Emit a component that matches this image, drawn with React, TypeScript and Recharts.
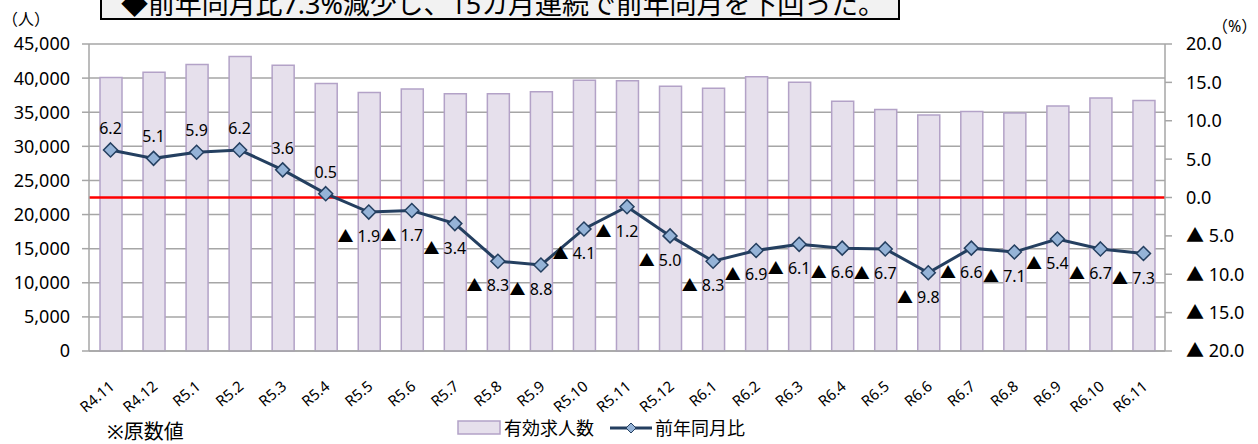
import React from 'react';
import { ComposedChart, Bar, Line, XAxis, YAxis, CartesianGrid, ReferenceLine } from 'recharts';

const categories = ['R4.11','R4.12','R5.1','R5.2','R5.3','R5.4','R5.5','R5.6','R5.7','R5.8','R5.9','R5.10','R5.11','R5.12','R6.1','R6.2','R6.3','R6.4','R6.5','R6.6','R6.7','R6.8','R6.9','R6.10','R6.11'];
const jobOffers = [40100,40850,42000,43150,41900,39200,37900,38400,37700,37700,38000,39700,39600,38800,38500,40200,39400,36600,35400,34600,35100,34900,35900,37100,36700];
const yoyChange = [6.2,5.1,5.9,6.2,3.6,0.5,-1.9,-1.7,-3.4,-8.3,-8.8,-4.1,-1.2,-5.0,-8.3,-6.9,-6.1,-6.6,-6.7,-9.8,-6.6,-7.1,-5.4,-6.7,-7.3];
const leftTicks = [0,5000,10000,15000,20000,25000,30000,35000,40000,45000];
const rightTicks = [-20,-15,-10,-5,0,5,10,15,20];
const boundaryTicks = Array.from({ length: categories.length + 1 }, (_, i) => i);

const barLegend = '有効求人数';
const lineLegend = '前年同月比';
const headline = '◆前年同月比7.3%減少し、15カ月連続で前年同月を下回った。';
const note = '※原数値';

const data = categories.map((c, i) => ({ name: c, offers: jobOffers[i], yoy: yoyChange[i], idx: i + 0.5 }));

const FONT = '"Noto Sans", "Noto Sans CJK JP", sans-serif';
const GRID = '#a6a6a6';

const fmtPct = (v: number) => (v < 0 ? `▲ ${Math.abs(v).toFixed(1)}` : v.toFixed(1));

const Diamond = (props: any) => {
  const { cx, cy } = props;
  if (cx == null || cy == null) return null;
  const r = 7;
  return (
    <polygon
      points={`${cx},${cy - r} ${cx + r},${cy} ${cx},${cy + r} ${cx - r},${cy}`}
      fill="#95B3D7"
      stroke="#243F60"
      strokeWidth={1.5}
    />
  );
};

const PointLabel = (props: any) => {
  const { x, y, value } = props;
  if (value == null) return null;
  const neg = value < 0;
  return (
    <text
      x={neg ? x - 10 : x}
      y={neg ? y + 30 : y - 16}
      textAnchor="middle"
      fontSize={16}
      fontFamily={FONT}
      fill="#000"
    >
      {fmtPct(value)}
    </text>
  );
};

const XTick = (props: any) => {
  const { x, y, payload } = props;
  const ax = x + 5;
  const ay = y + 29;
  return (
    <text
      x={ax}
      y={ay}
      textAnchor="end"
      fontSize={15}
      fontFamily={FONT}
      fill="#000"
      transform={`rotate(-40, ${ax}, ${ay})`}
    >
      {payload.value}
    </text>
  );
};

export default function App() {
  return (
    <div style={{ position: 'absolute', left: 0, top: 0, width: 1258, height: 444, background: '#fff', overflow: 'hidden', fontFamily: FONT }}>
      <ComposedChart
        width={1258}
        height={444}
        data={data}
        margin={{ top: 44, right: 0, bottom: 0, left: 0 }}
      >
        <CartesianGrid yAxisId="left" xAxisId="cat" vertical={false} stroke={GRID} strokeWidth={1.5} />
        <XAxis
          xAxisId="bound"
          type="number"
          dataKey="idx"
          domain={[0, categories.length]}
          ticks={boundaryTicks}
          interval={0}
          height={0}
          tick={false}
          axisLine={false}
          tickLine={{ stroke: GRID, strokeWidth: 1.5 }}
          tickSize={7}
        />
        <XAxis
          xAxisId="cat"
          dataKey="name"
          height={93}
          interval={0}
          tick={<XTick />}
          tickLine={false}
          axisLine={{ stroke: GRID, strokeWidth: 1.5 }}
        />
        <YAxis
          yAxisId="left"
          orientation="left"
          width={89}
          domain={[0, 45000]}
          ticks={leftTicks}
          interval={0}
          tickFormatter={(v: number) => v.toLocaleString('en-US')}
          tick={{ fontSize: 18, fill: '#000', fontFamily: FONT }}
          tickSize={7}
          tickMargin={12}
          tickLine={{ stroke: GRID, strokeWidth: 1.5 }}
          axisLine={{ stroke: GRID, strokeWidth: 1.5 }}
        />
        <YAxis
          yAxisId="right"
          orientation="right"
          width={93}
          domain={[-20, 20]}
          ticks={rightTicks}
          interval={0}
          tickFormatter={fmtPct}
          tick={{ fontSize: 18, fill: '#000', fontFamily: FONT, textAnchor: 'start' }}
          tickSize={7}
          tickMargin={14}
          tickLine={{ stroke: GRID, strokeWidth: 1.5 }}
          axisLine={{ stroke: GRID, strokeWidth: 1.5 }}
        />
        <Bar
          xAxisId="cat"
          yAxisId="left"
          dataKey="offers"
          barSize={22}
          fill="#E6E0EC"
          stroke="#B3A2C7"
          strokeWidth={1.5}
          isAnimationActive={false}
        />
        <ReferenceLine xAxisId="cat" yAxisId="right" y={0} stroke="#ff0000" strokeWidth={2.5} />
        <Line
          xAxisId="cat"
          yAxisId="right"
          dataKey="yoy"
          stroke="#243F60"
          strokeWidth={3}
          dot={<Diamond />}
          activeDot={false}
          label={<PointLabel />}
          isAnimationActive={false}
        />
      </ComposedChart>
      <svg width={1258} height={444} style={{ position: 'absolute', left: 0, top: 0, pointerEvents: 'none' }}>
        <rect x={101} y={-10} width={798} height={29} fill="#f2f2f2" stroke="#000" strokeWidth={2} />
        <text x={121} y={13.5} fontSize={27} textLength={764} lengthAdjust="spacing" fontFamily={FONT} fill="#000">{headline}</text>
        <text x={2} y={25} fontSize={16} fontFamily={FONT} fill="#000">（人）</text>
        <text x={1212} y={32} fontSize={16} fontFamily={FONT} fill="#000">（%）</text>
        <text x={107} y={439} fontSize={20} fontFamily={FONT} fill="#000">{note}</text>
        <rect x={458} y={421} width={42} height={13} fill="#E6E0EC" stroke="#B3A2C7" strokeWidth={1.5} />
        <text x={504} y={435} fontSize={18} fontFamily={FONT} fill="#000">{barLegend}</text>
        <line x1={610} y1={428} x2={652} y2={428} stroke="#243F60" strokeWidth={3} />
        <polygon points="631,423 636,428 631,433 626,428" fill="#95B3D7" stroke="#243F60" strokeWidth={1} />
        <text x={655} y={435} fontSize={18} fontFamily={FONT} fill="#000">{lineLegend}</text>
      </svg>
    </div>
  );
}
